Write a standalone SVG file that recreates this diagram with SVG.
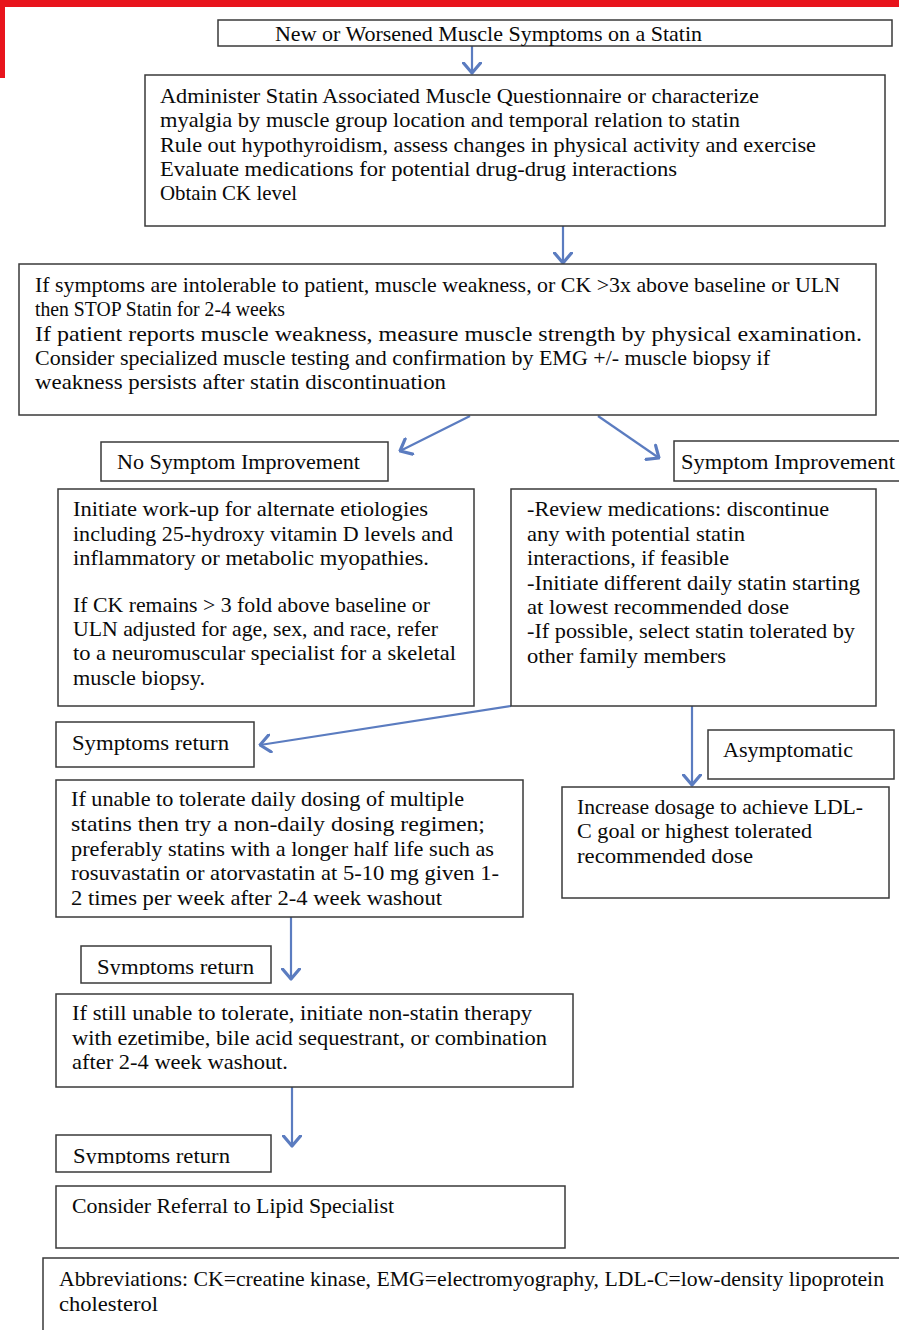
<svg xmlns="http://www.w3.org/2000/svg" width="899" height="1330" viewBox="0 0 899 1330">
<style>
.box{fill:#fff;stroke:#3a3a3a;stroke-width:1.5}
.t{font-family:"Liberation Serif","Times New Roman",serif;font-size:21px;fill:#0a0a0a}
.c{stroke:#5b7cc0;stroke-width:2.2;fill:none}
</style>
<defs>
<marker id="ah" markerUnits="userSpaceOnUse" viewBox="0 0 13 20" refX="11.5" refY="10" markerWidth="13" markerHeight="20" orient="auto">
<path d="M1.5,1.5 L11.5,10 L1.5,18.5" fill="none" stroke="#5b7cc0" stroke-width="3.2" stroke-linecap="round" stroke-linejoin="round"/>
</marker>
<clipPath id="clip2"><rect x="80" y="940" width="200" height="35"/></clipPath>
<clipPath id="clip3"><rect x="55" y="1130" width="220" height="34"/></clipPath>
</defs>
<rect x="0" y="0" width="899" height="7" fill="#e8141c"/>
<rect x="0" y="0" width="5" height="78" fill="#e8141c"/>

<g id="connectors">
<line class="c" x1="472" y1="46" x2="472" y2="73" marker-end="url(#ah)"/>
<line class="c" x1="563" y1="226" x2="563" y2="263" marker-end="url(#ah)"/>
<line class="c" x1="470" y1="416" x2="400" y2="451" marker-end="url(#ah)"/>
<line class="c" x1="598" y1="416" x2="659" y2="458" marker-end="url(#ah)"/>
<line class="c" x1="511" y1="706" x2="260" y2="745" marker-end="url(#ah)"/>
<line class="c" x1="692" y1="706" x2="692" y2="785" marker-end="url(#ah)"/>
<line class="c" x1="291" y1="917" x2="291" y2="979" marker-end="url(#ah)"/>
<line class="c" x1="292" y1="1087" x2="292" y2="1146" marker-end="url(#ah)"/>
</g>

<g id="n1">
<rect class="box" x="218" y="20" width="674" height="26"/>
<text class="t" x="275" y="41" textLength="427" lengthAdjust="spacingAndGlyphs">New or Worsened Muscle Symptoms on a Statin</text>
</g>

<g id="n2">
<rect class="box" x="145" y="75" width="740" height="151"/>
<text class="t" x="160" y="103" textLength="599" lengthAdjust="spacingAndGlyphs">Administer Statin Associated Muscle Questionnaire or characterize</text>
<text class="t" x="160" y="127" textLength="580" lengthAdjust="spacingAndGlyphs">myalgia by muscle group location and temporal relation to statin</text>
<text class="t" x="160" y="152" textLength="656" lengthAdjust="spacingAndGlyphs">Rule out hypothyroidism, assess changes in physical activity and exercise</text>
<text class="t" x="160" y="176" textLength="517" lengthAdjust="spacingAndGlyphs">Evaluate medications for potential drug-drug interactions</text>
<text class="t" x="160" y="200" textLength="137" lengthAdjust="spacingAndGlyphs">Obtain CK level</text>
</g>

<g id="n3">
<rect class="box" x="19" y="264" width="857" height="151"/>
<text class="t" x="35" y="292" textLength="805" lengthAdjust="spacingAndGlyphs">If symptoms are intolerable to patient, muscle weakness, or CK &gt;3x above baseline or ULN</text>
<text class="t" x="35" y="316" textLength="250" lengthAdjust="spacingAndGlyphs">then STOP Statin for 2-4 weeks</text>
<text class="t" x="35" y="341" textLength="827" lengthAdjust="spacingAndGlyphs">If patient reports muscle weakness, measure muscle strength by physical examination.</text>
<text class="t" x="35" y="365" textLength="735" lengthAdjust="spacingAndGlyphs">Consider specialized muscle testing and confirmation by EMG +/- muscle biopsy if</text>
<text class="t" x="35" y="389" textLength="411" lengthAdjust="spacingAndGlyphs">weakness persists after statin discontinuation</text>
</g>

<g id="n4">
<rect class="box" x="101" y="442" width="287" height="39"/>
<text class="t" x="117" y="469" textLength="243" lengthAdjust="spacingAndGlyphs">No Symptom Improvement</text>
</g>

<g id="n5">
<rect class="box" x="674" y="441" width="230" height="40"/>
<text class="t" x="681" y="469" textLength="214" lengthAdjust="spacingAndGlyphs">Symptom Improvement</text>
</g>

<g id="n6">
<rect class="box" x="58" y="489" width="416" height="217"/>
<text class="t" x="73" y="516" textLength="355" lengthAdjust="spacingAndGlyphs">Initiate work-up for alternate etiologies</text>
<text class="t" x="73" y="541" textLength="380" lengthAdjust="spacingAndGlyphs">including 25-hydroxy vitamin D levels and</text>
<text class="t" x="73" y="565" textLength="356" lengthAdjust="spacingAndGlyphs">inflammatory or metabolic myopathies.</text>
<text class="t" x="73" y="612" textLength="357" lengthAdjust="spacingAndGlyphs">If CK remains &gt; 3 fold above baseline or</text>
<text class="t" x="73" y="636" textLength="365" lengthAdjust="spacingAndGlyphs">ULN adjusted for age, sex, and race, refer</text>
<text class="t" x="73" y="660" textLength="383" lengthAdjust="spacingAndGlyphs">to a neuromuscular specialist for a skeletal</text>
<text class="t" x="73" y="685" textLength="132" lengthAdjust="spacingAndGlyphs">muscle biopsy.</text>
</g>

<g id="n7">
<rect class="box" x="511" y="489" width="365" height="217"/>
<text class="t" x="527" y="516" textLength="302" lengthAdjust="spacingAndGlyphs">-Review medications: discontinue</text>
<text class="t" x="527" y="541" textLength="218" lengthAdjust="spacingAndGlyphs">any with potential statin</text>
<text class="t" x="527" y="565" textLength="202" lengthAdjust="spacingAndGlyphs">interactions, if feasible</text>
<text class="t" x="527" y="590" textLength="333" lengthAdjust="spacingAndGlyphs">-Initiate different daily statin starting</text>
<text class="t" x="527" y="614" textLength="262" lengthAdjust="spacingAndGlyphs">at lowest recommended dose</text>
<text class="t" x="527" y="638" textLength="328" lengthAdjust="spacingAndGlyphs">-If possible, select statin tolerated by</text>
<text class="t" x="527" y="663" textLength="199" lengthAdjust="spacingAndGlyphs">other family members</text>
</g>

<g id="n8">
<rect class="box" x="56" y="722" width="198" height="45"/>
<text class="t" x="72" y="750" textLength="157" lengthAdjust="spacingAndGlyphs">Symptoms return</text>
</g>

<g id="n9">
<rect class="box" x="708" y="730" width="186" height="49"/>
<text class="t" x="723" y="757" textLength="130" lengthAdjust="spacingAndGlyphs">Asymptomatic</text>
</g>

<g id="n10">
<rect class="box" x="56" y="780" width="467" height="137"/>
<text class="t" x="71" y="806" textLength="393" lengthAdjust="spacingAndGlyphs">If unable to tolerate daily dosing of multiple</text>
<text class="t" x="71" y="831" textLength="414" lengthAdjust="spacingAndGlyphs">statins then try a non-daily dosing regimen;</text>
<text class="t" x="71" y="856" textLength="423" lengthAdjust="spacingAndGlyphs">preferably statins with a longer half life such as</text>
<text class="t" x="71" y="880" textLength="428" lengthAdjust="spacingAndGlyphs">rosuvastatin or atorvastatin at 5-10 mg given 1-</text>
<text class="t" x="71" y="905" textLength="371" lengthAdjust="spacingAndGlyphs">2 times per week after 2-4 week washout</text>
</g>

<g id="n11">
<rect class="box" x="562" y="787" width="327" height="111"/>
<text class="t" x="577" y="814" textLength="286" lengthAdjust="spacingAndGlyphs">Increase dosage to achieve LDL-</text>
<text class="t" x="577" y="838" textLength="235" lengthAdjust="spacingAndGlyphs">C goal or highest tolerated</text>
<text class="t" x="577" y="863" textLength="176" lengthAdjust="spacingAndGlyphs">recommended dose</text>
</g>

<g id="n12">
<rect class="box" x="81" y="946" width="190" height="37"/>
<text class="t" x="97" y="974" textLength="157" lengthAdjust="spacingAndGlyphs" clip-path="url(#clip2)">Symptoms return</text>
</g>

<g id="n13">
<rect class="box" x="56" y="994" width="517" height="93"/>
<text class="t" x="72" y="1020" textLength="460" lengthAdjust="spacingAndGlyphs">If still unable to tolerate, initiate non-statin therapy</text>
<text class="t" x="72" y="1045" textLength="475" lengthAdjust="spacingAndGlyphs">with ezetimibe, bile acid sequestrant, or combination</text>
<text class="t" x="72" y="1069" textLength="216" lengthAdjust="spacingAndGlyphs">after 2-4 week washout.</text>
</g>

<g id="n14">
<rect class="box" x="56" y="1135" width="215" height="37"/>
<text class="t" x="73" y="1163" textLength="157" lengthAdjust="spacingAndGlyphs" clip-path="url(#clip3)">Symptoms return</text>
</g>

<g id="n15">
<rect class="box" x="56" y="1186" width="509" height="62"/>
<text class="t" x="72" y="1213" textLength="322" lengthAdjust="spacingAndGlyphs">Consider Referral to Lipid Specialist</text>
</g>

<g id="n16">
<rect class="box" x="43" y="1258" width="870" height="90"/>
<text class="t" x="59" y="1286" textLength="825" lengthAdjust="spacingAndGlyphs">Abbreviations: CK=creatine kinase, EMG=electromyography, LDL-C=low-density lipoprotein</text>
<text class="t" x="59" y="1311" textLength="99" lengthAdjust="spacingAndGlyphs">cholesterol</text>
</g>
</svg>
